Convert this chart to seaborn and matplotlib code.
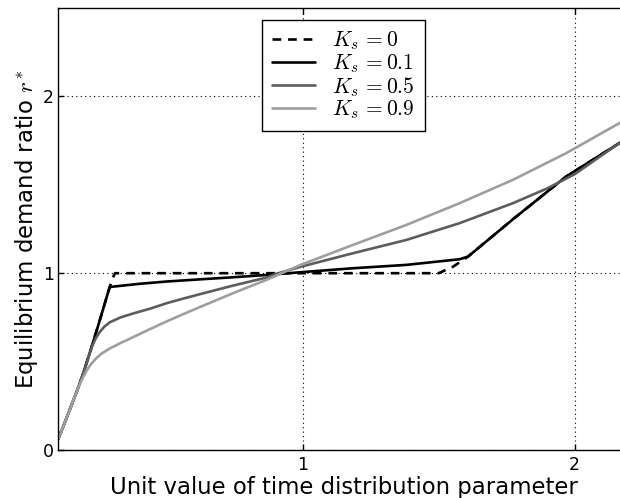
import numpy as np
import pandas as pd
import matplotlib
matplotlib.use("Agg")
import matplotlib.pyplot as plt
import seaborn as sns

# ---- data ----
labels = [r"$K_s\,{=}0$", r"$K_s\,{=}0.1$", r"$K_s\,{=}0.5$", r"$K_s\,{=}0.9$"]

x_k0 = [0.10, 0.12, 0.14, 0.17, 0.19, 0.22, 0.25, 0.29, 0.30, 0.31, 0.60, 1.00, 1.50, 1.553, 1.608,
        1.773, 1.969, 2.165, 2.20]
y_k0 = [0.06, 0.135, 0.215, 0.335, 0.42, 0.565, 0.715, 0.92, 0.97, 1.00, 1.00, 1.00, 1.00, 1.037, 1.094,
        1.305, 1.547, 1.736, 1.77]

x_k01 = [0.10, 0.12, 0.14, 0.17, 0.19, 0.22, 0.25, 0.29, 0.40, 0.50, 0.62, 0.744, 0.866, 0.989, 1.185,
         1.381, 1.577, 1.608, 1.773, 1.969, 2.165, 2.20]
y_k01 = [0.06, 0.135, 0.215, 0.335, 0.42, 0.565, 0.715, 0.922, 0.94, 0.953, 0.965, 0.977, 0.99, 1.005, 1.028,
         1.047, 1.079, 1.094, 1.305, 1.547, 1.736, 1.77]

x_k05 = [0.10, 0.12, 0.14, 0.17, 0.19, 0.21, 0.225, 0.24, 0.254, 0.27, 0.29, 0.33, 0.376, 0.44, 0.499, 0.56,
         0.621, 0.744, 0.866, 0.90, 0.989, 1.185, 1.381, 1.577, 1.773, 1.90, 2.00, 2.165, 2.20]
y_k05 = [0.06, 0.135, 0.215, 0.335, 0.42, 0.515, 0.585, 0.635, 0.668, 0.697, 0.722, 0.75, 0.772, 0.80, 0.83,
         0.856, 0.881, 0.93, 0.975, 0.995, 1.035, 1.113, 1.188, 1.283, 1.396, 1.48, 1.56, 1.736, 1.77]

x_k09 = [0.10, 0.12, 0.14, 0.16, 0.175, 0.19, 0.205, 0.22, 0.24, 0.26, 0.29, 0.33, 0.376, 0.44, 0.499, 0.56,
         0.621, 0.744, 0.866, 0.989, 1.185, 1.381, 1.577, 1.773, 1.969, 2.165, 2.20]
y_k09 = [0.06, 0.135, 0.215, 0.295, 0.355, 0.405, 0.448, 0.483, 0.518, 0.545, 0.574, 0.605, 0.638, 0.685, 0.727,
         0.768, 0.808, 0.887, 0.962, 1.045, 1.16, 1.273, 1.396, 1.528, 1.679, 1.849, 1.88]

colors = ["black", "black", "0.36", "0.62"]
xticks = [1, 2]
yticks = [0, 1, 2]

# ---- style ----
sns.set_style("ticks")
plt.rcParams["font.family"] = ["DejaVu Sans"]
plt.rcParams["mathtext.fontset"] = "cm"
plt.rcParams["text.color"] = "black"
plt.rcParams["axes.labelcolor"] = "black"

fig = plt.figure(figsize=(6.2, 4.98), dpi=100)
ax = fig.add_axes([58 / 620, 48 / 498, 571 / 620, 442 / 498])

series = [(x_k0, y_k0), (x_k01, y_k01), (x_k05, y_k05), (x_k09, y_k09)]
for i, ((xs, ys), lab, c) in enumerate(zip(series, labels, colors)):
    df = pd.DataFrame({"x": xs, "y": ys})
    sns.lineplot(data=df, x="x", y="y", ax=ax, color=c, lw=1.9, label=lab, sort=False)
    if i == 0:
        ax.lines[-1].set_dashes([3.3, 2.6])

ax.set_xlim(0.1, 2.2)
ax.set_ylim(0, 2.5)
ax.set_xticks(xticks)
ax.set_yticks(yticks)
ax.set_xticklabels([str(t) for t in xticks])
ax.set_yticklabels([str(t) for t in yticks])
ax.tick_params(direction="in", length=4, width=1, top=True, right=True,
               labelsize=12.5, colors="black")
ax.tick_params(axis="y", pad=3)
ax.tick_params(axis="x", pad=4)
for s in ax.spines.values():
    s.set_color("black")
    s.set_linewidth(1.0)
ax.grid(True, color="black", linestyle=(0, (1, 3)), linewidth=0.8)

ax.set_xlabel("Unit value of time distribution parameter", fontsize=16.4, labelpad=2)
ax.set_ylabel(r"Equilibrium demand ratio $r^*$", fontsize=16.4, labelpad=2)

leg = ax.legend(loc="upper center", fontsize=15.5, fancybox=False, framealpha=1,
                edgecolor="black", handlelength=2.0, labelspacing=0.0,
                borderpad=0.45, borderaxespad=0.55)
leg.get_frame().set_linewidth(1.0)

fig.savefig("out.png", dpi=100)
